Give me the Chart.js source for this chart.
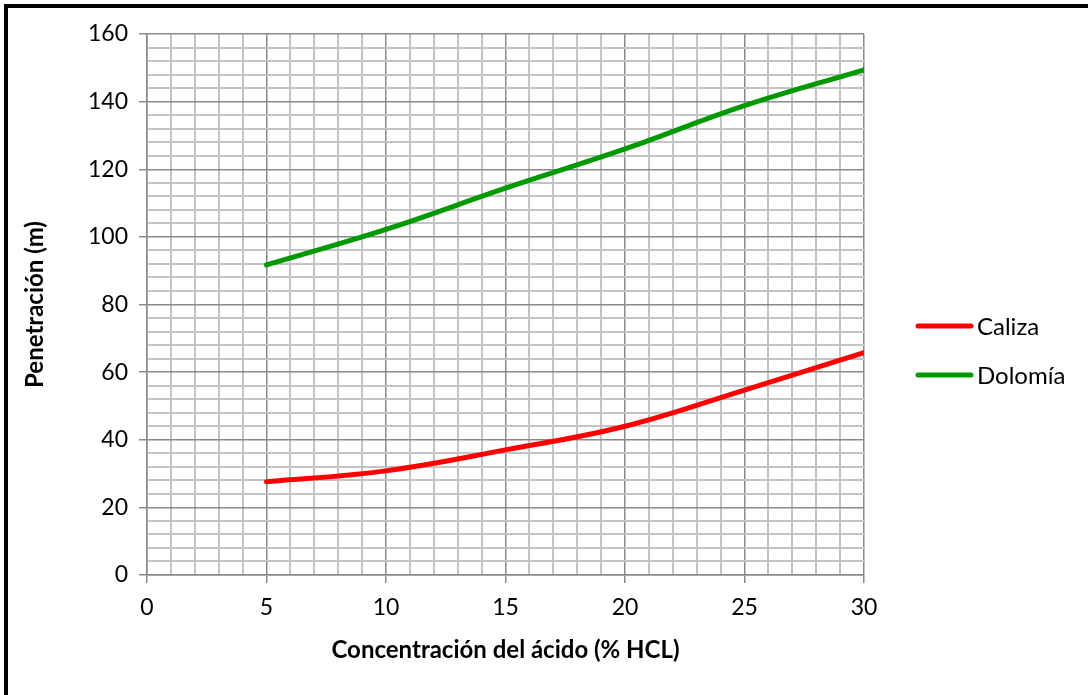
<!DOCTYPE html>
<html>
<head>
<meta charset="utf-8">
<script src="https://cdn.jsdelivr.net/npm/chart.js@4.4.1/dist/chart.umd.min.js"></script>
<style>
  html, body { margin: 0; padding: 0; background: #ffffff; overflow: hidden; width: 1088px; height: 695px; }
  #frame { position: absolute; left: 4px; top: 4px; width: 3000px; height: 3000px; border: 4px solid #000; box-sizing: border-box; }
  #wrap { position: absolute; left: 0; top: 0; width: 1088px; height: 695px; }
</style>
</head>
<body>
<div id="frame"></div>
<div id="wrap"><canvas id="c" width="1088" height="695"></canvas></div>
<script>
// ---- data ----
const concentracion = [5, 10, 15, 20, 25, 30];
const caliza  = [27.6, 30.8, 37.0, 44.0, 54.7, 65.8];
const dolomia = [91.7, 102.2, 114.4, 126.0, 138.8, 149.4];
const seriesNames = ['Caliza', 'Dolomía'];
const xTitle = 'Concentración del ácido (% HCL)';
const yTitle = 'Penetración (m)';
const xTickLabels = [0, 5, 10, 15, 20, 25, 30];
const yTickLabels = [0, 20, 40, 60, 80, 100, 120, 140, 160];

const FONT = 'Lato, "Open Sans", sans-serif';
const MAJOR = '#8a8a8a';
const MINOR = '#c3c3c3';

const legendPlugin = {
  id: 'sideLegend',
  afterDraw(chart) {
    const ctx = chart.ctx;
    const ys = [326, 375];
    ctx.save();
    chart.data.datasets.forEach((ds, i) => {
      ctx.strokeStyle = ds.borderColor;
      ctx.lineWidth = 5;
      ctx.lineCap = 'round';
      ctx.beginPath();
      ctx.moveTo(918, ys[i]);
      ctx.lineTo(971, ys[i]);
      ctx.stroke();
      ctx.fillStyle = '#000';
      ctx.font = '24px ' + FONT;
      ctx.textBaseline = 'middle';
      ctx.textAlign = 'left';
      ctx.fillText(ds.label, 977, ys[i] + 1);
    });
    ctx.restore();
  }
};

new Chart(document.getElementById('c'), {
  type: 'line',
  data: {
    datasets: [
      { label: seriesNames[0], data: concentracion.map((x, i) => ({x, y: caliza[i]})),
        borderColor: '#ff0000', backgroundColor: '#ff0000', borderWidth: 5, pointRadius: 0,
        tension: 0.4, borderCapStyle: 'round', fill: false },
      { label: seriesNames[1], data: concentracion.map((x, i) => ({x, y: dolomia[i]})),
        borderColor: '#009900', backgroundColor: '#009900', borderWidth: 5, pointRadius: 0,
        tension: 0.4, borderCapStyle: 'round', fill: false }
    ]
  },
  options: {
    responsive: false,
    animation: false,
    devicePixelRatio: 1,
    layout: { padding: { top: 34, right: 224, bottom: 0, left: 0 } },
    plugins: { legend: { display: false }, tooltip: { enabled: false } },
    scales: {
      x: {
        type: 'linear', min: 0, max: 30,
        afterFit: (s) => { s.height = 120; },
        ticks: {
          stepSize: 1, autoSkip: false, maxRotation: 0, padding: 11,
          color: '#000', font: { family: FONT, size: 23 },
          callback: (v) => xTickLabels.includes(v) ? String(v) : ''
        },
        grid: {
          color: (c) => (c.tick && c.tick.value % 5 === 0) ? MAJOR : MINOR,
          lineWidth: (c) => (c.tick && c.tick.value % 5 === 0) ? 1.5 : 2,
          tickColor: (c) => (c.tick && c.tick.value % 5 === 0) ? MAJOR : 'rgba(0,0,0,0)',
          tickLength: 8, drawTicks: true
        },
        border: { color: MAJOR, width: 1.5 },
        title: { display: true, text: xTitle, color: '#000',
          font: { family: FONT, size: 24, weight: 'bold' }, padding: { top: 0, bottom: 30 } }
      },
      y: {
        type: 'linear', min: 0, max: 160,
        afterFit: (s) => { s.width = 147; },
        ticks: {
          stepSize: 4, autoSkip: false, padding: 11,
          color: '#000', font: { family: FONT, size: 23 },
          callback: (v) => yTickLabels.includes(v) ? String(v) : ''
        },
        grid: {
          color: (c) => (c.tick && c.tick.value % 20 === 0) ? MAJOR : MINOR,
          lineWidth: (c) => (c.tick && c.tick.value % 20 === 0) ? 1.5 : 2,
          tickColor: (c) => (c.tick && c.tick.value % 20 === 0) ? MAJOR : 'rgba(0,0,0,0)',
          tickLength: 8, drawTicks: true
        },
        border: { color: MAJOR, width: 1.5 },
        title: { display: true, text: yTitle, color: '#000',
          font: { family: FONT, size: 24, weight: 'bold' }, padding: { top: 21, bottom: 0 } }
      }
    }
  },
  plugins: [legendPlugin]
});
</script>
</body>
</html>
